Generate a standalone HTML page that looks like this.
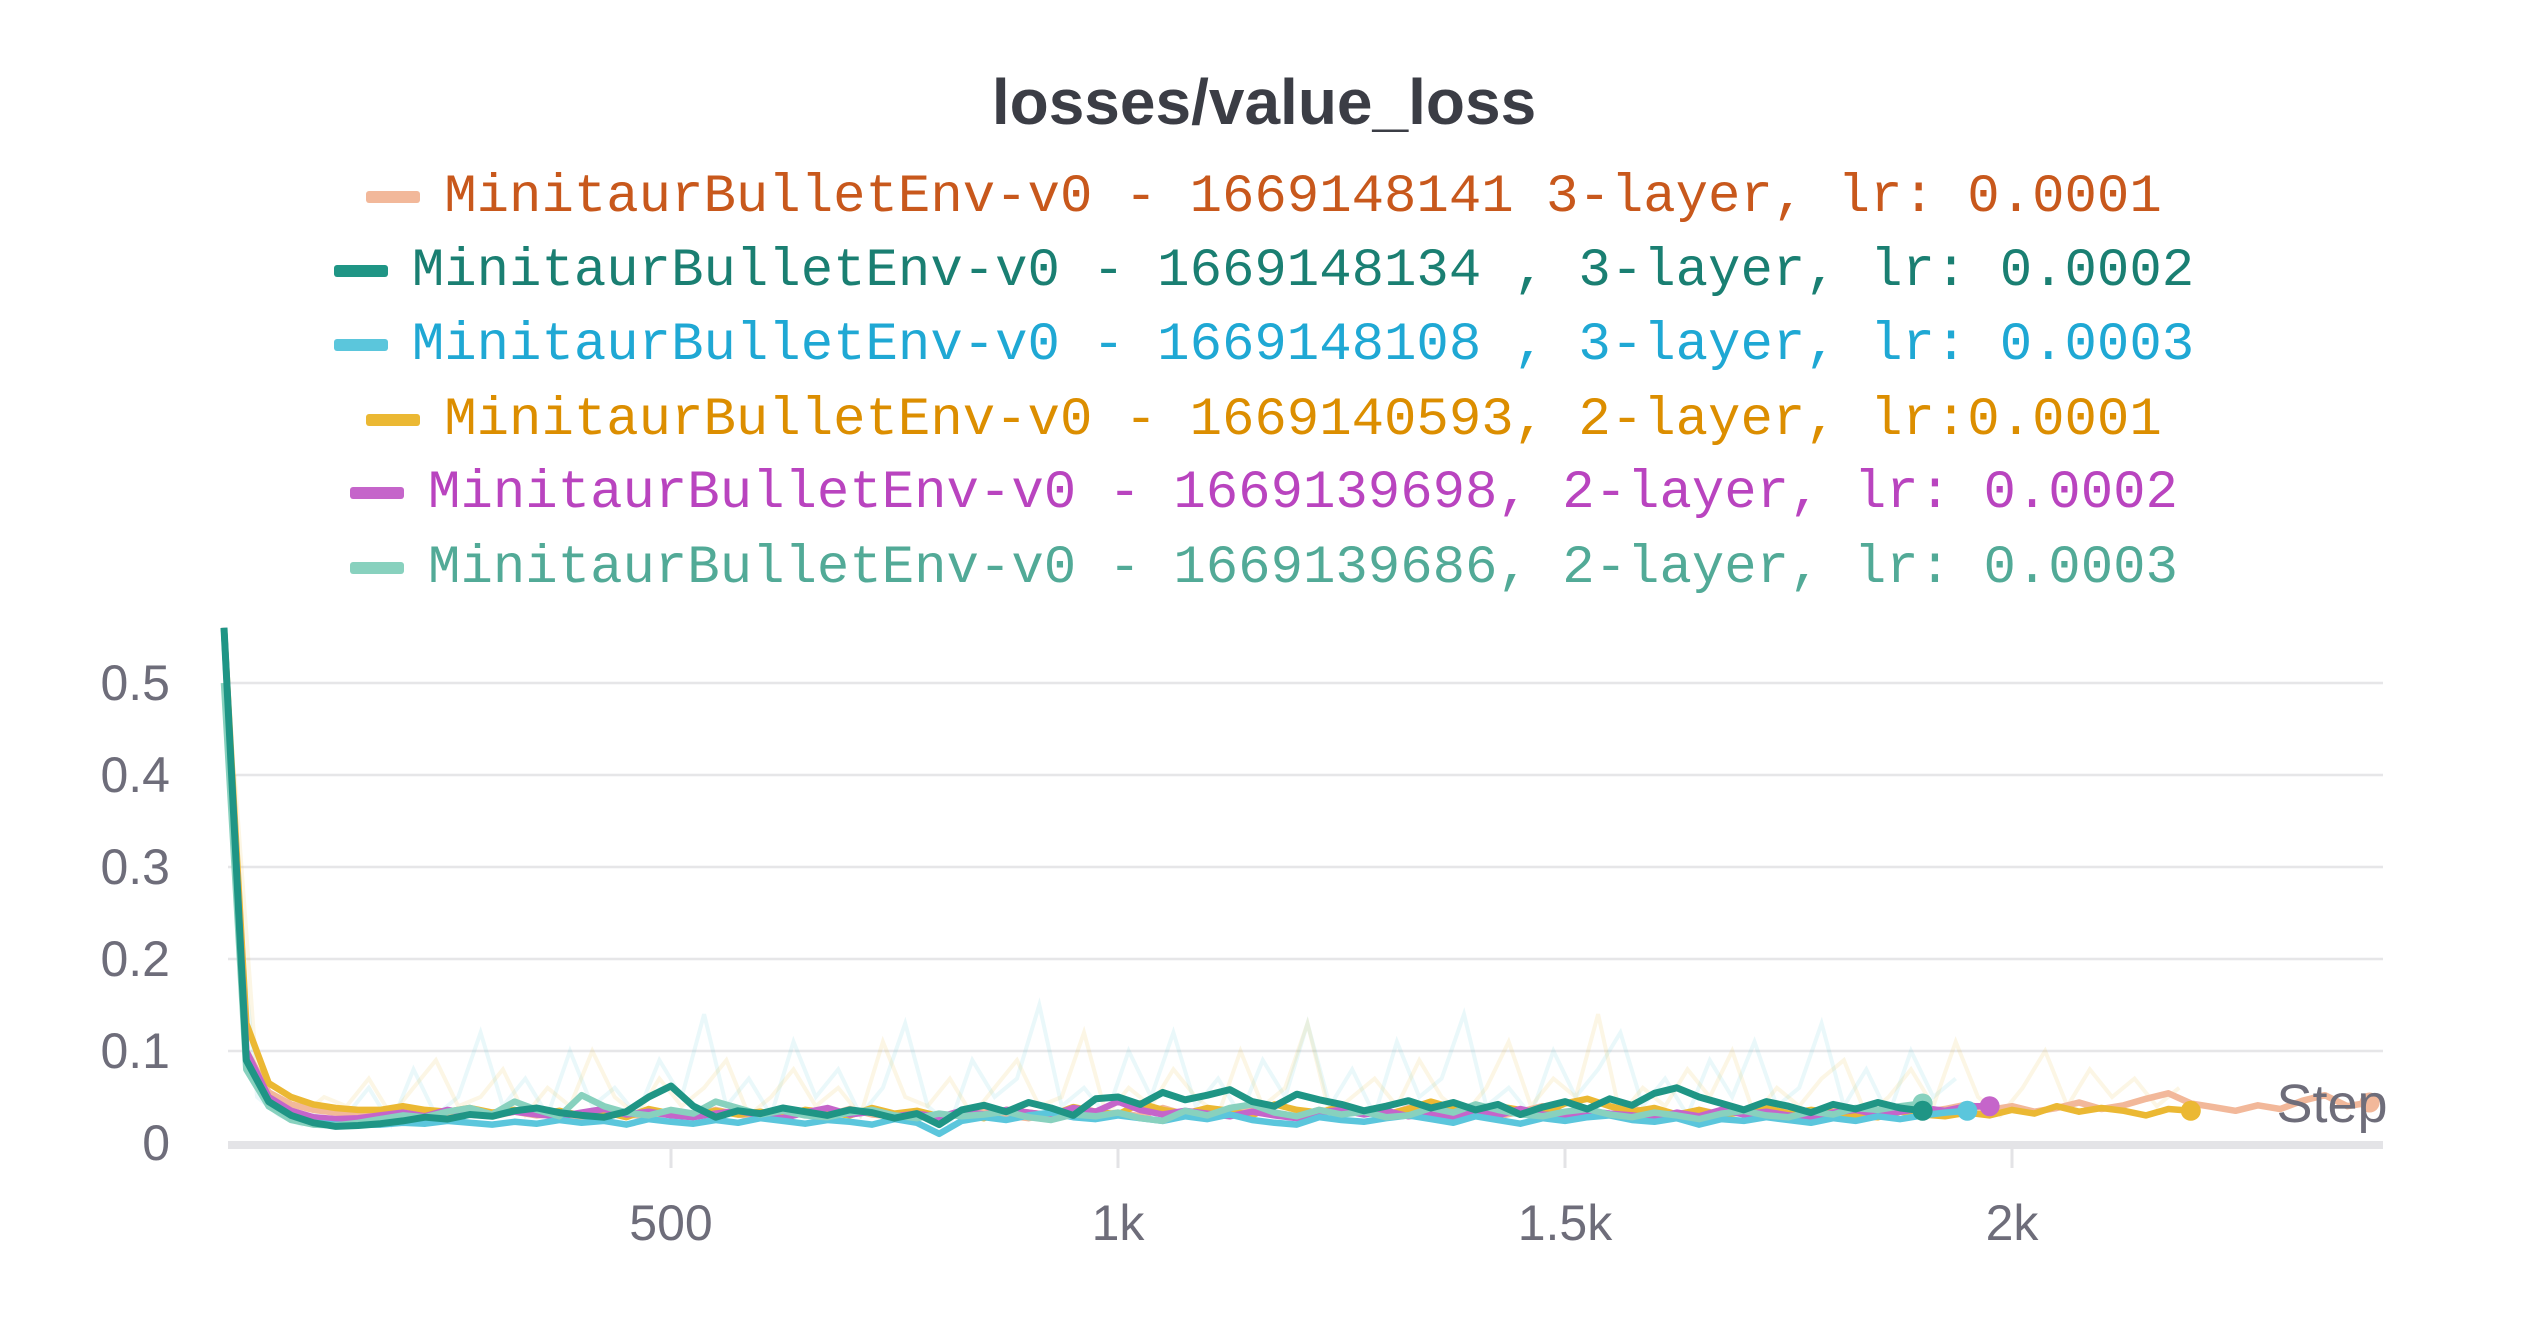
<!DOCTYPE html>
<html><head><meta charset="utf-8">
<style>
html,body{margin:0;padding:0;background:#fff;}
#wrap{position:relative;width:2528px;height:1328px;overflow:hidden;font-family:"Liberation Sans",sans-serif;}
#title{position:absolute;left:0;width:2528px;top:62px;text-align:center;font-family:"Liberation Sans Narrow","Liberation Sans",sans-serif;font-weight:bold;font-size:64px;color:#3b3d45;line-height:80px;}
.row{position:absolute;left:0;width:2528px;display:flex;justify-content:center;align-items:center;height:74px;font-family:"Liberation Mono",monospace;font-size:54px;white-space:pre;}
.sw{width:54px;height:12px;border-radius:3px;margin-right:24px;}
svg{position:absolute;left:0;top:0;}
</style></head><body>
<div id="wrap">
<div id="title">losses/value_loss</div>
<div class="row" style="top:160px"><div class="sw" style="background:#f2b89a"></div><span style="color:#c8581c">MinitaurBulletEnv-v0 - 1669148141 3-layer, lr: 0.0001</span></div>
<div class="row" style="top:234px"><div class="sw" style="background:#1f9585"></div><span style="color:#1a7f72">MinitaurBulletEnv-v0 - 1669148134 , 3-layer, lr: 0.0002</span></div>
<div class="row" style="top:308px"><div class="sw" style="background:#5bc6dc"></div><span style="color:#1fa8d4">MinitaurBulletEnv-v0 - 1669148108 , 3-layer, lr: 0.0003</span></div>
<div class="row" style="top:383px"><div class="sw" style="background:#ebb833"></div><span style="color:#dc8e00">MinitaurBulletEnv-v0 - 1669140593, 2-layer, lr:0.0001</span></div>
<div class="row" style="top:456px"><div class="sw" style="background:#c565ca"></div><span style="color:#b944bf">MinitaurBulletEnv-v0 - 1669139698, 2-layer, lr: 0.0002</span></div>
<div class="row" style="top:531px"><div class="sw" style="background:#88d1be"></div><span style="color:#52aa97">MinitaurBulletEnv-v0 - 1669139686, 2-layer, lr: 0.0003</span></div>
<svg id="chart" width="2528" height="1328"></svg>
</div>
<script>
const yTicks = [0, 0.1, 0.2, 0.3, 0.4, 0.5];
const yTickLabels = ["0", "0.1", "0.2", "0.3", "0.4", "0.5"];
const xTicks = [500, 1000, 1500, 2000];
const xTickLabels = ["500", "1k", "1.5k", "2k"];
const stepInterval = 25;
const peach = [.56,.10,.055,.042,.036,.033,.031,.030,.032,.030,.033,.031,.029,.034,.030,.032,.028,.035,.031,.029,.033,.030,.036,.031,.028,.034,.032,.030,.037,.031,.029,.033,.028,.031,.035,.030,.027,.032,.036,.030,.033,.029,.038,.031,.034,.030,.041,.033,.029,.036,.032,.035,.030,.038,.033,.031,.036,.029,.034,.040,.032,.035,.030,.037,.033,.029,.036,.031,.034,.030,.038,.033,.036,.031,.035,.039,.033,.037,.042,.036,.040,.034,.038,.044,.037,.041,.048,.054,.043,.039,.035,.041,.037,.046,.052,.040,.044];
const teal = [.56,.09,.045,.030,.022,.018,.019,.021,.024,.028,.026,.031,.029,.035,.038,.033,.030,.028,.034,.050,.062,.040,.028,.035,.032,.038,.034,.030,.036,.033,.027,.032,.020,.036,.041,.034,.044,.038,.030,.048,.050,.042,.055,.047,.052,.058,.045,.040,.053,.047,.042,.035,.040,.046,.038,.044,.036,.042,.031,.039,.045,.037,.048,.041,.054,.060,.050,.043,.036,.045,.040,.033,.042,.037,.044,.038,.035];
const cyan = [.56,.09,.040,.028,.022,.020,.020,.020,.022,.021,.024,.022,.020,.023,.021,.025,.022,.024,.020,.026,.023,.021,.025,.022,.027,.024,.021,.025,.023,.020,.026,.022,.010,.024,.028,.025,.030,.033,.028,.026,.030,.027,.024,.029,.026,.031,.025,.022,.020,.028,.025,.023,.027,.030,.026,.022,.029,.025,.021,.027,.024,.028,.030,.025,.023,.027,.020,.026,.024,.028,.025,.022,.027,.024,.029,.026,.030,.033,.035];
const yellow = [.56,.13,.065,.050,.042,.038,.036,.036,.040,.036,.034,.038,.033,.036,.031,.035,.030,.034,.028,.037,.032,.030,.035,.031,.034,.029,.036,.033,.030,.038,.032,.035,.029,.031,.027,.036,.033,.030,.039,.034,.031,.043,.036,.032,.038,.035,.030,.042,.036,.033,.040,.035,.031,.037,.045,.038,.034,.040,.036,.032,.043,.048,.040,.034,.038,.031,.036,.030,.034,.038,.032,.036,.033,.030,.028,.034,.031,.029,.033,.030,.036,.032,.040,.034,.038,.035,.030,.037,.035];
const magenta = [.56,.10,.050,.035,.028,.026,.027,.030,.033,.029,.036,.032,.030,.034,.031,.029,.033,.037,.031,.034,.030,.028,.032,.035,.030,.027,.033,.038,.031,.034,.029,.032,.028,.035,.031,.036,.033,.030,.038,.034,.045,.036,.031,.035,.032,.029,.034,.030,.027,.033,.036,.031,.035,.029,.032,.028,.034,.030,.037,.031,.029,.035,.032,.030,.027,.033,.029,.036,.031,.034,.030,.028,.033,.036,.031,.034,.038,.035,.040,.040];
const lightTeal = [.50,.08,.040,.025,.020,.019,.022,.026,.030,.028,.034,.038,.031,.045,.036,.029,.052,.040,.033,.030,.036,.032,.045,.038,.031,.035,.030,.028,.033,.036,.030,.027,.032,.029,.031,.034,.028,.025,.031,.029,.033,.027,.024,.035,.030,.038,.042,.033,.029,.036,.031,.034,.028,.030,.038,.033,.042,.036,.031,.029,.034,.037,.031,.028,.033,.030,.026,.032,.035,.030,.028,.034,.031,.038,.036,.040,.043];
const rawCyan = [.30,.05,.03,.02,.04,.03,.06,.02,.08,.03,.05,.12,.04,.07,.03,.10,.04,.06,.03,.09,.05,.14,.04,.07,.03,.11,.05,.08,.03,.06,.13,.04,.02,.09,.05,.07,.15,.04,.06,.03,.10,.05,.12,.04,.07,.03,.09,.05,.13,.04,.08,.03,.11,.05,.07,.14,.04,.06,.03,.10,.05,.08,.12,.04,.07,.03,.09,.05,.11,.04,.06,.13,.04,.08,.03,.10,.05,.07];
const rawYellow = [.40,.07,.04,.03,.05,.04,.07,.03,.06,.09,.04,.05,.08,.03,.06,.04,.10,.05,.03,.07,.04,.06,.09,.03,.05,.08,.04,.06,.03,.11,.05,.04,.07,.03,.06,.09,.04,.05,.12,.03,.06,.04,.08,.05,.03,.10,.04,.06,.13,.03,.05,.07,.04,.09,.05,.03,.06,.11,.04,.07,.05,.14,.03,.06,.04,.08,.05,.10,.03,.06,.04,.07,.09,.03,.05,.08,.04,.11,.05,.03,.06,.10,.04,.08,.05,.07,.04,.06];

const NS = "http://www.w3.org/2000/svg";
const svg = document.getElementById("chart");
const X0 = 224, PXPERSTEP = 0.894, Y0 = 1143, PXPERUNIT = 920, XR = 2383;
function xs(s){ return X0 + s * PXPERSTEP; }
function ys(v){ return Y0 - v * PXPERUNIT; }
function mk(tag, attrs){ const e = document.createElementNS(NS, tag); for (const k in attrs) e.setAttribute(k, attrs[k]); svg.appendChild(e); return e; }

yTicks.forEach((t, i) => {
  if (t > 0) {
    const g = mk("line", {x1: 228, x2: XR, y1: ys(t), y2: ys(t), stroke: "#e6e6e8", "stroke-width": 2.5});
    
    
  }
  const tx = mk("text", {x: 170, y: ys(t) + 17, "text-anchor": "end", "font-size": 50, fill: "#6e6d7a", "font-family": "Liberation Sans Narrow, Liberation Sans, sans-serif"});
  tx.textContent = yTickLabels[i];
  
  
});
xTicks.forEach((t, i) => {
  const tl = mk("line", {x1: xs(t), x2: xs(t), y1: 1146, y2: 1168, stroke: "#e3e3e6", "stroke-width": 3});
  
  
  const tx = mk("text", {x: xs(t), y: 1240, "text-anchor": "middle", "font-size": 50, fill: "#6e6d7a", "font-family": "Liberation Sans Narrow, Liberation Sans, sans-serif"});
  tx.textContent = xTickLabels[i];
  
  
});
const base = mk("line", {x1: 228, x2: XR, y1: Y0 + 2, y2: Y0 + 2, stroke: "#e4e4e7", "stroke-width": 8});



const raws = [
  {name: "raw-1669148108", vals: rawCyan, color: "#5bc6dc"},
  {name: "raw-1669140593", vals: rawYellow, color: "#ebb833"}
];
raws.forEach(s => {
  const pts = s.vals.map((v, i) => xs(i * stepInterval + 12).toFixed(1) + "," + ys(v).toFixed(1)).join(" ");
  const pl = mk("polyline", {points: pts, fill: "none", stroke: s.color, "stroke-width": 4, opacity: 0.13});
  
  
});

const series = [
  {name: "series-1669148141", vals: peach, color: "#f2b89a", w: 6.5},
  {name: "series-1669140593", vals: yellow, color: "#ebb833", w: 6.5},
  {name: "series-1669139698", vals: magenta, color: "#c565ca", w: 6.5},
  {name: "series-1669148108", vals: cyan, color: "#5bc6dc", w: 6.5},
  {name: "series-1669139686", vals: lightTeal, color: "#88d1be", w: 6.5},
  {name: "series-1669148134", vals: teal, color: "#1f9585", w: 7}
];
series.forEach(s => {
  const pts = s.vals.map((v, i) => xs(i * stepInterval).toFixed(1) + "," + ys(v).toFixed(1)).join(" ");
  const pl = mk("polyline", {points: pts, fill: "none", stroke: s.color, "stroke-width": s.w, "stroke-linejoin": "round"});
  
  
  const li = s.vals.length - 1;
  const c = mk("circle", {cx: xs(li * stepInterval), cy: ys(s.vals[li]), r: 10, fill: s.color});
  
  
});
const st = mk("text", {x: 2332, y: 1122, "text-anchor": "middle", "font-size": 54, fill: "#6e6d7a", "font-family": "Liberation Sans Narrow, Liberation Sans, sans-serif"});
st.textContent = "Step";


</script>
</body></html>
